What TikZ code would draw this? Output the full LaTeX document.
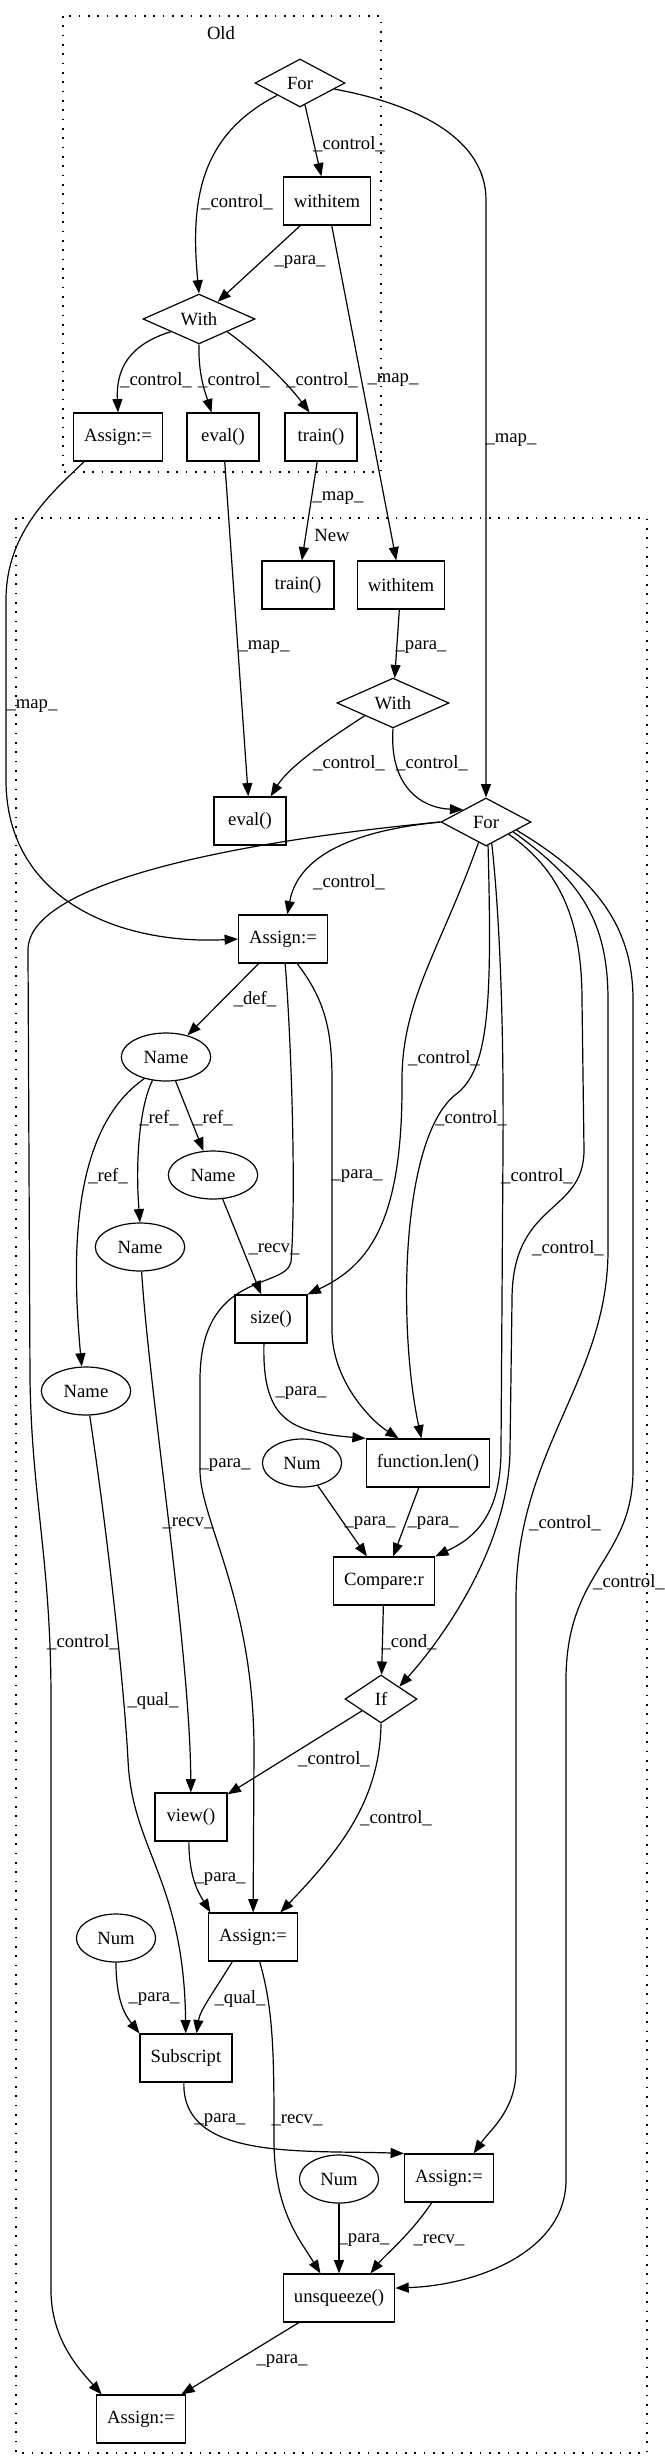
\documentclass[tikz,border=0pt]{standalone}
\usepackage{fontspec}
\setmainfont{Liberation Serif}
\usetikzlibrary{arrows.meta,shapes.geometric}
\tikzset{
  box/.style={draw, line width=0.9pt, rectangle, align=center, inner xsep=8pt, minimum width=54pt, minimum height=36pt},
  decision/.style={draw, line width=0.9pt, diamond, inner sep=0pt, minimum height=36pt},
  leaf/.style={draw, line width=0.9pt, ellipse, inner xsep=7pt, inner ysep=0pt, minimum height=36pt},
  arrow/.style={-{Triangle[length=10pt, width=7.5pt]}, line width=0.9pt},
  lbl/.style={inner sep=0pt},
  cluster/.style={line width=0.9pt, dash pattern=on 1.3pt off 5.7pt}
}

\begin{document}
\begin{tikzpicture}[x=0.75pt, y=-0.75pt, font=\fontsize{14}{16}\selectfont]
  \useasboundingbox (0,0) rectangle (664,2458);

  \draw[cluster] (63,16) rectangle (381,472);
  \node (oldtitle) at (221,33) {Old};
  \node[decision, minimum width=67.5pt] (forold) at (300,83) {For};
  \node[box] (withitemold) at (327,201) {withitem};
  \node[decision, minimum width=84pt] (withold) at (199,319) {With};
  \node[box] (assignold) at (118,437) {Assign:=};
  \node[box] (evalold) at (223,437) {eval()};
  \node[box] (trainold) at (321,437) {train()};

  \draw[cluster] (16,518) rectangle (647,2453);
  \node (newtitle) at (332,535) {New};
  \node[box] (trainnew) at (298,585) {train()};
  \node[box] (withitemnew) at (401,585) {withitem};
  \node[decision, minimum width=84pt] (withnew) at (393,703) {With};
  \node[box] (evalnew) at (250,821) {eval()};
  \node[decision, minimum width=67.5pt] (fornew) at (486,822) {For};
  \node[box] (assign1) at (283,939) {Assign:=};
  \node[leaf] (name1) at (166,1057) {Name};
  \node[leaf] (name2) at (213,1175) {Name};
  \node[leaf] (name3) at (140,1247) {Name};
  \node[box] (size) at (271,1319) {size()};
  \node[leaf] (name4) at (86,1391) {Name};
  \node[leaf] (num1) at (302,1463) {Num};
  \node[box] (len) at (428,1463) {function.len()};
  \node[box] (compare) at (384,1581) {Compare:r};
  \node[decision, minimum width=54pt] (if) at (381,1699) {If};
  \node[box] (view) at (191,1817) {view()};
  \node[leaf] (num2) at (116,1938) {Num};
  \node[box] (assign2) at (253,1937) {Assign:=};
  \node[box] (subscript) at (186,2058) {Subscript};
  \node[leaf] (num3) at (339,2179) {Num};
  \node[box] (assign3) at (449,2178) {Assign:=};
  \node[box] (unsqueeze) at (339,2298) {unsqueeze()};
  \node[box] (assign4) at (141,2419) {Assign:=};

  \draw[arrow] (forold) -- (withitemold) node[lbl] at (349,144) {\_control\_};
  \draw[arrow] (forold.south west) .. controls (200,135) and (190,200) .. (withold.north) node[lbl] at (237,202) {\_control\_};
  \draw[arrow] (withitemold) -- (withold) node[lbl] at (300,262) {\_para\_};
  \draw[arrow] (withold.south west) .. controls (128,345) and (116,370) .. (assignold.north) node[lbl] at (156,380) {\_control\_};
  \draw[arrow] (withold.south) .. controls (198,375) and (206,395) .. (evalold.115) node[lbl] at (234,380) {\_control\_};
  \draw[arrow] (withold.south east) .. controls (255,352) and (285,380) .. (trainold.115) node[lbl] at (322,380) {\_control\_};

  \draw[arrow] (forold.-10) .. controls (420,105) and (486,140) .. (486,200) -- (fornew) node[lbl] at (511,440) {\_map\_};
  \draw[arrow] (withitemold) -- (withitemnew) node[lbl] at (393,380) {\_map\_};
  \draw[arrow] (evalold) -- (evalnew) node[lbl] at (264,647) {\_map\_};
  \draw[arrow] (trainold) -- (trainnew) node[lbl] at (338,498) {\_map\_};
  \draw[arrow] (assignold.-144) .. controls (55,490) and (6,530) .. (6,600) -- (6,780) .. controls (6,900) and (120,945) .. (assign1.west) node[lbl] at (32,706) {\_map\_};

  \draw[arrow] (withitemnew) -- (withnew) node[lbl] at (421,647) {\_para\_};
  \draw[arrow] (withnew.south west) .. controls (335,735) and (290,765) .. (evalnew.50) node[lbl] at (349,763) {\_control\_};
  \draw[arrow] (withnew.south) .. controls (389,785) and (420,808) .. (fornew.north west) node[lbl] at (432,763) {\_control\_};

  \draw[arrow] (fornew.west) .. controls (380,828) and (300,845) .. (assign1.80) node[lbl] at (349,882) {\_control\_};
  \draw[arrow] (fornew.west) .. controls (250,840) and (28,880) .. (28,950) -- (30,1380) .. controls (32,1500) and (51,1560) .. (51,1700) -- (51,2290) .. controls (51,2340) and (80,2370) .. (assign4.148) node[lbl] at (83,1642) {\_control\_};
  \draw[arrow] (fornew.-110) .. controls (440,950) and (402,1000) .. (402,1080) .. controls (403,1220) and (370,1265) .. (size.north east) node[lbl] at (444,1058) {\_control\_};
  \draw[arrow] (fornew.-85) .. controls (492,1000) and (490,1070) .. (455,1095) .. controls (400,1140) and (398,1330) .. (len.105) node[lbl] at (471,1118) {\_control\_};
  \draw[arrow] (fornew.-75) .. controls (498,900) and (504,1000) .. (503,1150) -- (501,1450) .. controls (501,1520) and (470,1540) .. (compare.north east) node[lbl] at (537,1176) {\_control\_};
  \draw[arrow] (fornew.south east) .. controls (560,870) and (582,920) .. (582,1000) -- (584,1150) .. controls (584,1215) and (512,1200) .. (512,1300) -- (510,1450) .. controls (509,1540) and (450,1630) .. (if.north east) node[lbl] at (568,1248) {\_control\_};
  \draw[arrow] (fornew.-20) .. controls (580,880) and (608,920) .. (608,1000) -- (608,1250) .. controls (608,1380) and (516,1450) .. (516,1600) -- (516,2070) .. controls (516,2110) and (490,2130) .. (assign3.45) node[lbl] at (565,1523) {\_control\_};
  \draw[arrow] (fornew.-15) .. controls (600,880) and (633,930) .. (633,1000) -- (633,1470) .. controls (633,1560) and (566,1570) .. (566,1680) -- (566,2180) .. controls (566,2250) and (480,2285) .. (unsqueeze.10) node[lbl] at (629,1582) {\_control\_};

  \draw[arrow] (assign1) -- (name1) node[lbl] at (255,999) {\_def\_};
  \draw[arrow] (assign1.-85) .. controls (292,1050) and (296,1200) .. (291,1262) .. controls (285,1290) and (200,1270) .. (200,1380) -- (200,1470) .. controls (200,1520) and (254,1600) .. (254,1750) -- (assign2) node[lbl] at (225,1465) {\_para\_};
  \draw[arrow] (assign1.-60) .. controls (325,1000) and (332,1030) .. (332,1080) -- (332,1330) .. controls (332,1380) and (370,1420) .. (len.140) node[lbl] at (357,1176) {\_para\_};

  \draw[arrow] (name1) -- (name2) node[lbl] at (213,1118) {\_ref\_};
  \draw[arrow] (name1.-120) .. controls (140,1105) and (135,1160) .. (name3.north) node[lbl] at (159,1118) {\_ref\_};
  \draw[arrow] (name1.-135) .. controls (70,1130) and (72,1260) .. (name4.100) node[lbl] at (108,1176) {\_ref\_};
  \draw[arrow] (name2) -- (size) node[lbl] at (274,1249) {\_recv\_};
  \draw[arrow] (name3) .. controls (150,1400) and (190,1650) .. (view) node[lbl] at (188,1523) {\_recv\_};
  \draw[arrow] (name4) .. controls (110,1550) and (125,1700) .. (128,1760) .. controls (132,1850) and (184,1880) .. (subscript) node[lbl] at (153,1701) {\_qual\_};
  \draw[arrow] (size.-106) .. controls (262,1420) and (290,1432) .. (len.north west) node[lbl] at (301,1393) {\_para\_};
  \draw[arrow] (num1) -- (compare) node[lbl] at (370,1523) {\_para\_};
  \draw[arrow] (len) -- (compare) node[lbl] at (433,1523) {\_para\_};
  \draw[arrow] (compare) -- (if) node[lbl] at (409,1642) {\_cond\_};
  \draw[arrow] (if) -- (view) node[lbl] at (334,1759) {\_control\_};
  \draw[arrow] (if.south) .. controls (380,1800) and (340,1850) .. (assign2.42) node[lbl] at (396,1818) {\_control\_};
  \draw[arrow] (view.-95) .. controls (189,1880) and (200,1895) .. (assign2.150) node[lbl] at (220,1879) {\_para\_};
  \draw[arrow] (num2.south) .. controls (116,2000) and (125,2015) .. (subscript.north west) node[lbl] at (154,1999) {\_para\_};
  \draw[arrow] (assign2.-130) .. controls (215,1990) and (200,2010) .. (subscript.67) node[lbl] at (240,1999) {\_qual\_};
  \draw[arrow] (assign2.-75) .. controls (274,2010) and (274,2060) .. (274,2140) .. controls (274,2210) and (300,2240) .. (unsqueeze.127) node[lbl] at (297,2120) {\_recv\_};
  \draw[arrow] (subscript.-95) .. controls (182,2160) and (300,2150) .. (assign3.north west) node[lbl] at (220,2120) {\_para\_};
  \draw[arrow] (num3) -- (unsqueeze) node[lbl] at (364,2240) {\_para\_};
  \draw[arrow] (assign3.-125) .. controls (410,2235) and (385,2255) .. (unsqueeze.38) node[lbl] at (439,2240) {\_recv\_};
  \draw[arrow] (unsqueeze) -- (assign4) node[lbl] at (282,2361) {\_para\_};
\end{tikzpicture}
\end{document}
